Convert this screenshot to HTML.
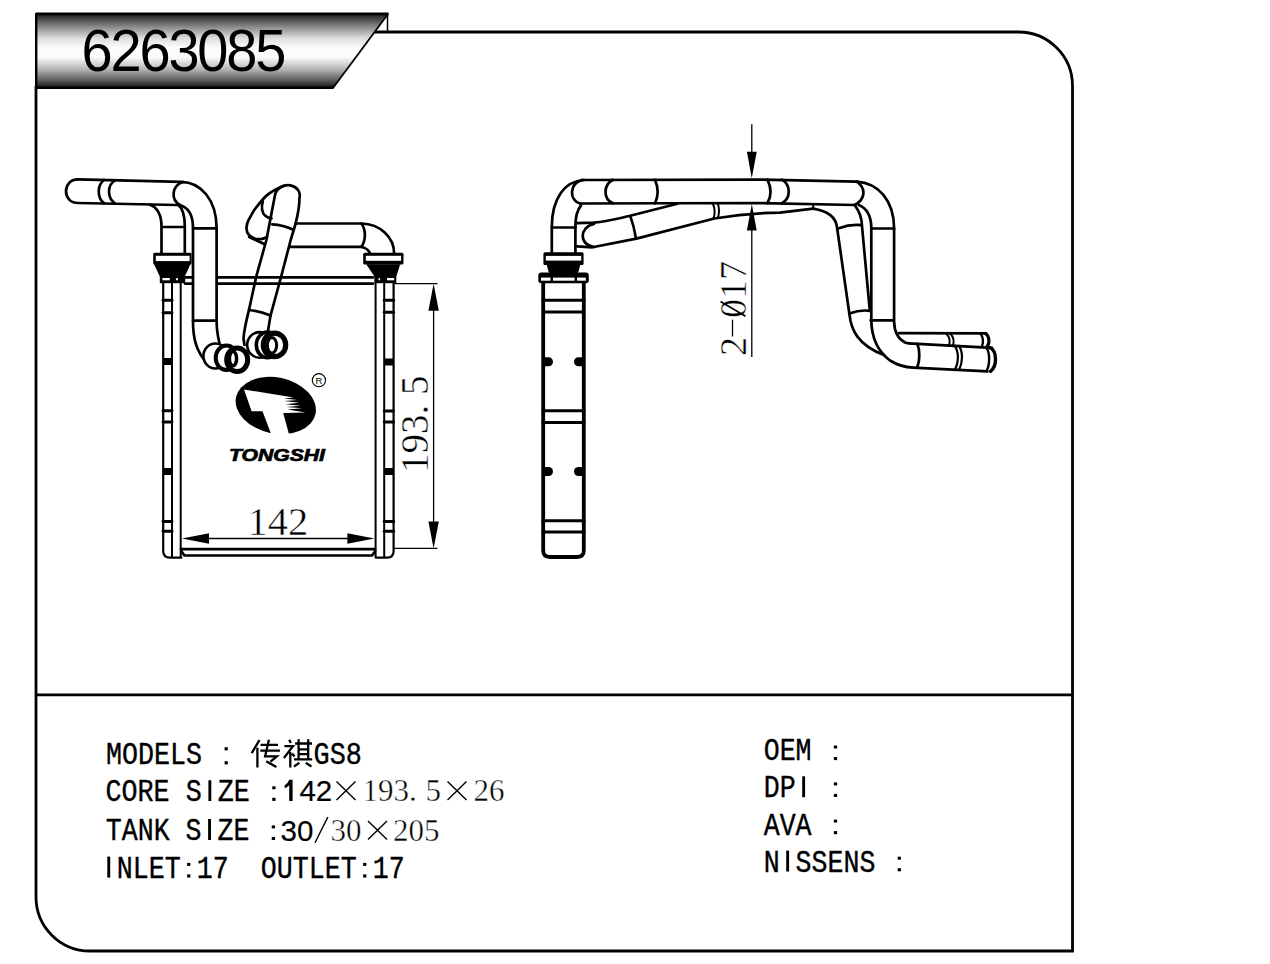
<!DOCTYPE html>
<html><head><meta charset="utf-8">
<title>6263085</title>
<style>
html,body{margin:0;padding:0;background:#fff;width:1270px;height:964px;overflow:hidden}
svg{display:block;position:absolute;left:0;top:0}
</style></head>
<body>
<svg width="1270" height="964" viewBox="0 0 1270 964">
<defs>
<linearGradient id="bg" x1="0" y1="13.5" x2="0" y2="88" gradientUnits="userSpaceOnUse">
<stop offset="0" stop-color="#1a1a1a"/>
<stop offset="0.18" stop-color="#8a8a8a"/>
<stop offset="0.33" stop-color="#dcdcdc"/>
<stop offset="0.46" stop-color="#fdfdfd"/>
<stop offset="0.59" stop-color="#fbfbfb"/>
<stop offset="0.75" stop-color="#b4b4b4"/>
<stop offset="0.9" stop-color="#5a5a5a"/>
<stop offset="1" stop-color="#111"/>
</linearGradient>
</defs>
<!-- frame -->
<g fill="none" stroke="#000" stroke-width="2.8">
<path d="M36,86 V897 A54,54 0 0 0 90,951 H1072.5 V86 A54,54 0 0 0 1018.5,32 H374"/>
<line x1="36" y1="694.8" x2="1072.5" y2="694.8"/>
</g>
<!-- banner -->
<polygon points="36,13.8 388,13.8 333,87.8 36,87.8" fill="url(#bg)"/>
<g stroke="#000" fill="none">
<line x1="36" y1="13.9" x2="388.6" y2="13.9" stroke-width="2.8"/>
<line x1="36" y1="87.7" x2="333.5" y2="87.7" stroke-width="2.6"/>
<line x1="388" y1="14" x2="333" y2="88" stroke-width="1.8"/>
<line x1="36.2" y1="13" x2="36.2" y2="89" stroke-width="2.4"/>
</g>
<line x1="387.5" y1="14" x2="387.5" y2="32" stroke="#000" stroke-width="1.5"/>
<text transform="translate(81.6,71) scale(1,1.065)" x="0" y="0" font-family="Liberation Sans" font-size="56" letter-spacing="-2.2" fill="#000">6263085</text>

<!-- DRAWING -->
<!-- ===== FRONT VIEW ===== -->
<g id="fv" fill="none" stroke="#000" stroke-width="2.7" stroke-linecap="round" stroke-linejoin="round">
<!-- left tank -->
<path d="M163.2,283 V551 Q163.2,557.6 170,557.6 H181.5" stroke-width="2.2"/>
<line x1="172" y1="283" x2="172" y2="557" stroke-width="2"/>
<line x1="180.7" y1="277" x2="180.7" y2="557" stroke-width="2"/>
<g stroke-width="2.9">
<line x1="163" y1="300.3" x2="172" y2="300.3"/><line x1="163" y1="312.7" x2="172" y2="312.7"/>
<line x1="163" y1="410.8" x2="172" y2="410.8"/><line x1="163" y1="422" x2="172" y2="422"/>
<line x1="163" y1="521.5" x2="172" y2="521.5"/><line x1="163" y1="531.2" x2="172" y2="531.2"/>
</g>
<rect x="163" y="358" width="9" height="7" fill="#000" stroke="none"/>
<rect x="163" y="468" width="9" height="7" fill="#000" stroke="none"/>
<!-- right tank -->
<path d="M393.6,283 V551 Q393.6,557.6 387,557.6 H375.6" stroke-width="2.2"/>
<line x1="384.2" y1="283" x2="384.2" y2="557" stroke-width="2"/>
<line x1="375.6" y1="277" x2="375.6" y2="557" stroke-width="2"/>
<g stroke-width="2.9">
<line x1="384.2" y1="300.3" x2="393.6" y2="300.3"/><line x1="384.2" y1="312.2" x2="393.6" y2="312.2"/>
<line x1="384.2" y1="411" x2="393.6" y2="411"/><line x1="384.2" y1="422" x2="393.6" y2="422"/>
<line x1="384.2" y1="521.5" x2="393.6" y2="521.5"/><line x1="384.2" y1="531.2" x2="393.6" y2="531.2"/>
</g>
<rect x="384.2" y="358.5" width="9.4" height="7" fill="#000" stroke="none"/>
<rect x="384.2" y="468" width="9.4" height="7" fill="#000" stroke="none"/>
<!-- core top double line -->
<path d="M185,277.3 H193 M217,277.3 H373 M185,283.6 H193 M217,283.6 H373"/>
<!-- core bottom double line -->
<path d="M181,549.2 H375 M181.5,551.5 L184.5,555.5 H372 L375,551.5" />
<!-- left fitting -->
<rect x="153.2" y="252.8" width="38.4" height="11.6" rx="1.5" fill="#000" stroke="none"/>
<rect x="155.8" y="255.8" width="33.8" height="5.3" fill="#fff" stroke="none"/>
<path d="M154,264 L190.5,264 L184.8,276.5 L159.8,276.5 Z" fill="#000" stroke="none"/>
<rect x="159.8" y="276" width="25.4" height="7.2" fill="#000" stroke="none"/>
<rect x="162.4" y="278" width="7.4" height="2.3" fill="#fff" stroke="none"/>
<rect x="175.9" y="278.2" width="2" height="2" fill="#fff" stroke="none"/>
<!-- right fitting -->
<rect x="363.2" y="252.8" width="40.3" height="11.7" rx="1.5" fill="#000" stroke="none"/>
<rect x="365.8" y="255.8" width="35.3" height="5" fill="#fff" stroke="none"/>
<path d="M366.2,264.2 L400.2,264.2 L396.3,276.5 L374.5,276.5 Z" fill="#000" stroke="none"/>
<rect x="374.5" y="276" width="21.8" height="7.2" fill="#000" stroke="none"/>
<rect x="387" y="278" width="7.2" height="2.3" fill="#fff" stroke="none"/>
<rect x="378.5" y="278.2" width="1.6" height="2" fill="#fff" stroke="none"/>
<!-- big left pipe -->
<path d="M78,179.4 L181,181.8 C201,182 216.6,200 216.6,228 V321 C216.6,330 218,337 219.4,343"/>
<path d="M78,179.4 C62,179.4 62,203 78,203 L177.3,205"/>
<path d="M104,180 C97,185 97,198 104,203.2 M115,180.3 C107,185 107,198 115,203.5"/>
<path d="M183,182 C171,186 171,200 180,205"/>
<path d="M179,205 C188,207 193,215 193,228 V321 C193,338 196,352 208,364"/>
<path d="M193,228.4 H216.6 M193,320.6 H216.4"/>
<!-- small inlet pipe into left fitting -->
<path d="M150.3,205 C157,207 161.5,215 161.5,226 V254 M178.3,205 C182,208 184.8,215 184.8,226 V254 M161.5,227 H184.8"/>

<!-- right horizontal pipe + elbow -->
<path d="M296,223.5 H361.5 C380,224 394,237 394.2,253.7"/>
<path d="M290,246.8 H361 C366,248 369,250 370,253.7"/>
<path d="M361.5,223.5 C366,230 366,240 361.5,246.8"/>

<!-- back tilted pipe cap -->
<path d="M284,185.8 C279,187.8 272,191 266.8,195.4 C263,198.5 260,202.5 254.1,210.2 L248.5,220.1 C245.5,226 246,232 249,235 C252,238.5 257,239.5 261.2,239.1 C263.5,238.8 265.5,237.8 267,237"/>
<path d="M249.2,237 L264.7,244.3"/>
<path d="M262.8,201.5 C261,207 262,213 265,215.5 C267,217.3 269,218 271.5,218.3"/>

<!-- diagonal pipe -->
<path d="M275.2,194 A12.4,10.8 -12 0 1 299.4,198.2 C299.6,206 297.5,216 295.5,224 L290.7,240 L281.3,276 L270.5,315.6 L267.8,332"/>
<path d="M275.2,194 L266.4,240 L256.3,276.4 L248.9,310.2 C246,322 244,330 243.5,338.5 L244.5,345"/>
<path d="M272.3,224.4 Q283,225 293.5,229.8"/>
<path d="M249,310 Q260,311 270.5,315.6"/>

<!-- rings left group -->
<g fill="#fff">
<ellipse cx="215.5" cy="356" rx="12.1" ry="12.5" stroke-width="2.6"/>
<ellipse cx="226.5" cy="357.8" rx="10.8" ry="12.3" stroke-width="4"/>
<ellipse cx="237.2" cy="359.8" rx="10.5" ry="11.8" stroke-width="5"/>
<ellipse cx="233" cy="358.6" rx="3.6" ry="7.2" stroke-width="3.5"/>
</g>
<!-- rings right group -->
<g fill="#fff">
<ellipse cx="259.5" cy="344.9" rx="12.3" ry="12.8" stroke-width="2.6"/>
<ellipse cx="267.5" cy="344.9" rx="11.2" ry="12.8" stroke-width="3.6"/>
<ellipse cx="274.5" cy="344.9" rx="11.2" ry="11.8" stroke-width="5.2"/>
<ellipse cx="272" cy="345.2" rx="4.6" ry="7.8" stroke-width="3"/>
</g>
</g>

<!-- logo -->
<g>
<ellipse cx="275.8" cy="405.5" rx="40.6" ry="28" transform="rotate(12 275.8 405.5)" fill="#000"/>
<path d="M244,389.5 L293.6,397.4 L284,398.4 L297.5,400 L284.5,401.1 L299,402.8 L285.5,404.3 L300.5,405.8 L286.5,407 L302,408.3 L287.5,409.4 L305.4,412.6 L283.2,412.9 L289.9,437.5 L272.4,437.5 L262.5,411.3 L251.6,411.3 Z" fill="#fff"/>
<circle cx="318.9" cy="380.2" r="6.6" fill="none" stroke="#000" stroke-width="1.1"/>
<text x="318.9" y="383.6" font-family="Liberation Sans" font-size="9.5" text-anchor="middle" fill="#000">R</text>
<text x="229" y="460.8" font-family="Liberation Sans" font-size="16.8" font-weight="bold" font-style="italic" fill="#000" stroke="#000" stroke-width="0.7" textLength="96" lengthAdjust="spacingAndGlyphs">TONGSHI</text>
</g>

<!-- dimensions FV -->
<g stroke="#000" stroke-width="1.3" fill="none">
<line x1="190" y1="538.5" x2="366" y2="538.5"/>
<line x1="433.6" y1="292" x2="433.6" y2="540"/>
<line x1="395" y1="283.7" x2="437.5" y2="283.7"/>
<line x1="394" y1="548.4" x2="437.5" y2="548.4"/>
</g>
<g fill="#000">
<polygon points="182,538.5 209,533.3 209,543.7"/>
<polygon points="374.4,538.5 347.4,533.3 347.4,543.7"/>
<polygon points="433.6,283.7 428.4,310.7 438.8,310.7"/>
<polygon points="433.6,548.4 428.4,521.4 438.8,521.4"/>
</g>
<text x="247.5" y="534.5" font-family="Liberation Serif" font-size="40.5" fill="#000" stroke="#fff" stroke-width="0.5">142</text>
<text transform="translate(428,472.9) rotate(-90)" font-family="Liberation Serif" font-size="39" fill="#000" stroke="#fff" stroke-width="0.5">193. 5</text>
<!-- ===== SIDE VIEW ===== -->
<g id="sv" fill="none" stroke="#000" stroke-width="2.7" stroke-linecap="round" stroke-linejoin="round">
<!-- tank -->
<path d="M543.2,283 V550.5 Q543.2,557 550,557 H577 Q583.8,557 583.8,550.5 V283" stroke-width="3.8"/>
<g stroke-width="3">
<line x1="543" y1="300.3" x2="584" y2="300.3"/><line x1="543" y1="312" x2="584" y2="312"/>
<line x1="543" y1="410.7" x2="584" y2="410.7"/><line x1="543" y1="422.6" x2="584" y2="422.6"/>
<line x1="543" y1="520.8" x2="584" y2="520.8"/><line x1="543" y1="531.9" x2="584" y2="531.9"/>
</g>
<g fill="#000" stroke="none">
<path d="M543,357.3 H548.5 A4.5,4.5 0 0 1 548.5,366.3 H543 Z"/>
<path d="M584,357.3 H578.5 A4.5,4.5 0 0 0 578.5,366.3 H584 Z"/>
<path d="M543,467 H548.5 A4.5,4.5 0 0 1 548.5,476 H543 Z"/>
<path d="M584,467 H578.5 A4.5,4.5 0 0 0 578.5,476 H584 Z"/>
</g>
<!-- tank top cap -->
<rect x="538.3" y="272.5" width="50.5" height="10.8" rx="3" fill="#000" stroke="none"/>
<rect x="541" y="277.6" width="9.6" height="3.1" fill="#fff" stroke="none"/>
<rect x="553" y="277.6" width="21.6" height="3.1" fill="#fff" stroke="none"/>
<rect x="577" y="277.6" width="8.8" height="3.1" fill="#fff" stroke="none"/>
<!-- fitting -->
<rect x="543.4" y="252.3" width="40.2" height="12.7" rx="1.5" fill="#000" stroke="none"/>
<rect x="545.8" y="255.9" width="35.4" height="4.7" fill="#fff" stroke="none"/>
<path d="M546.5,264 L580.5,264 L578.5,271.5 Q577,276 563.5,276 Q550,276 548.5,271.5 Z" fill="#000" stroke="none"/>
<!-- vertical pipe -->
<path d="M551.8,253.4 V227.3 C551.8,198 565,181 584,180"/>
<path d="M575.4,253.4 V227.3 C575.4,216 577,210 581,205.5"/>
<path d="M551.8,227.5 H575.4"/>
<!-- upper pipe -->
<path d="M582,180 L760,179.6 L856.8,181.6"/>
<path d="M580,203.5 L760,203 L854.7,205"/>
<path d="M582,180 C569,184 569,200 580,203.5"/>
<path d="M613,179.8 C603,185 603,199 613,203.3"/>
<path d="M655,179.8 C658.5,188 658.5,196 655,203.3"/>
<path d="M767.5,179.6 C771.5,188 771.5,196 767.5,203"/>
<path d="M782,179.6 C791,185 791,198 782,203.2"/>
<path d="M856.8,181.6 C866,188 866,199 854.7,205"/>
<!-- lower sloping pipe -->
<path d="M577,223.2 L593.4,222.7 C610,221 620,218 629.2,216 L677.4,203.8"/>
<path d="M577,246.3 L592.4,247.3 L636.4,238.6 L714.3,218.5 C740,214 760,212.8 780,212.7 L813.2,208.6"/>
<path d="M594,224 C579,227 579,245 594,247"/>
<path d="M630.3,216.1 Q634,226 635.9,238.1"/>
<path d="M713,204 Q716,211 713.5,218.3 M718,204 Q720,211 718,217.5" stroke-width="2"/>
<path d="M813.2,205 V208.6" stroke-width="2"/>
<!-- right vertical pipe B -->
<path d="M856.8,181.6 C878,183 894,200 894.1,228.3 V322 C894.5,333 898,339 905,342.5 C908,343.5 911,343.7 913.1,343.6 L992,347.8"/>
<path d="M858.8,205 C866,208 871,215 871.3,227.2 V320 C871.5,336 876,350 890,360.5 C898,365.5 905,367.3 913.1,367.6 L987.4,371.4"/>
<path d="M871.3,228.5 H894.1 M870.5,320.3 H893.8"/>
<!-- pipe A (diagonal) -->
<path d="M854.7,205 C859,211 862,218 862,226 L869.8,310.6"/>
<path d="M813.2,208.6 C828,211 836,218 837,227.2 L849.5,314.7 C851,330 858,345 884,355.1"/>
<path d="M839,228.2 Q850,224 861.5,225.2"/>
<path d="M849.5,313.5 Q860,309.5 869.8,310.8"/>
<!-- back pipe -->
<path d="M899,333.2 L986,333.4"/>
<path d="M946,333.2 C950.5,338 950.5,342 948.5,346 M950,333.2 C954.5,338 954.5,342 952.5,346.2" stroke-width="2"/>
<path d="M980.5,333.3 C983,337 983.5,342 982,346.2" stroke-width="2.4"/><path d="M985.5,333.5 C989.5,336 990,343 987,346.8" stroke-width="3.2"/>
<!-- front pipe -->
<path d="M917.3,343.8 C920,350 920,360 917.3,367.2"/>
<path d="M954.5,345.6 C959,352 959,362 955,369.7 M959,345.9 C963,352 963,362 959,369.9" stroke-width="2.2"/>
<path d="M986.5,347.8 C990,353 990,365 986.5,371" stroke-width="2.4"/><path d="M990,347.8 C997,351 997.5,366 990.5,371.3" stroke-width="3.4"/>
</g>
<!-- SV dimension -->
<g stroke="#000" stroke-width="1.3" fill="none">
<line x1="751.8" y1="124.3" x2="751.8" y2="160"/>
<line x1="751.8" y1="220" x2="751.8" y2="357"/>
</g>
<g fill="#000">
<polygon points="751.8,178.2 746.9,151.8 756.7,151.8"/>
<polygon points="751.8,204 746.9,230.4 756.7,230.4"/>
</g>
<g transform="translate(745.8,356) rotate(-90)" font-family="Liberation Serif" font-size="38" fill="#000" stroke="#fff" stroke-width="0.5">
<text x="0" y="0">2</text><text x="38" y="0">017</text>
</g>
<line x1="720.5" y1="301.5" x2="745.5" y2="316.2" stroke="#000" stroke-width="1.6"/>
<line x1="732.5" y1="319.7" x2="732.5" y2="336.5" stroke="#000" stroke-width="1.3"/>


<!-- bottom text -->
<g font-family="Liberation Mono" font-size="32" fill="#000" stroke="#000" stroke-width="0.4">
<text x="106" y="764.2" textLength="96" lengthAdjust="spacingAndGlyphs">MODELS</text>
<text x="105.5" y="801.2" textLength="176.4" lengthAdjust="spacingAndGlyphs" xml:space="preserve">CORE S ZE  </text>
<text x="105.8" y="840.3" textLength="175.6" lengthAdjust="spacingAndGlyphs" xml:space="preserve">TANK S ZE  </text>
<text x="100.75" y="877.8" textLength="304" lengthAdjust="spacingAndGlyphs" xml:space="preserve"> NLET 17  OUTLET 17</text>
<text x="313.6" y="764" textLength="48.3" lengthAdjust="spacingAndGlyphs">GS8</text>
<text x="763.7" y="760.4" textLength="79.75" lengthAdjust="spacingAndGlyphs" xml:space="preserve">OEM  </text>
<text x="763.7" y="797.3" textLength="79.75" lengthAdjust="spacingAndGlyphs" xml:space="preserve">DP   </text>
<text x="763.7" y="834.5" textLength="79.75" lengthAdjust="spacingAndGlyphs" xml:space="preserve">AVA  </text>
<text x="763.7" y="871.6" textLength="143.6" lengthAdjust="spacingAndGlyphs" xml:space="preserve">N SSENS  </text>
</g>


<!-- colons -->
<g fill="#000">
<rect x="272.25" y="786.3" width="3.3" height="3"/><rect x="272.25" y="797.8" width="3.3" height="3.1"/>
<rect x="271.75" y="825.4" width="3.3" height="3"/><rect x="271.75" y="836.9" width="3.3" height="3.1"/>
<rect x="187.10" y="862.9" width="3.3" height="3"/><rect x="187.10" y="874.4" width="3.3" height="3.1"/>
<rect x="363.10" y="862.9" width="3.3" height="3"/><rect x="363.10" y="874.4" width="3.3" height="3.1"/>
<rect x="833.85" y="745.5" width="3.3" height="3"/><rect x="833.85" y="757.0" width="3.3" height="3.1"/>
<rect x="833.85" y="782.4" width="3.3" height="3"/><rect x="833.85" y="793.9" width="3.3" height="3.1"/>
<rect x="833.85" y="819.6" width="3.3" height="3"/><rect x="833.85" y="831.1" width="3.3" height="3.1"/>
<rect x="897.65" y="856.7" width="3.3" height="3"/><rect x="897.65" y="868.2" width="3.3" height="3.1"/>
</g>
<!-- plain I glyphs -->
<g fill="#000">
<rect x="208.4" y="780.2" width="2.9" height="20.8"/>
<rect x="208.1" y="819" width="2.9" height="21"/>
<rect x="107.3" y="856.6" width="2.9" height="21"/>
<rect x="802.2" y="776.3" width="2.9" height="20.9"/>
<rect x="786.2" y="850.6" width="2.9" height="20.9"/>
</g>
<!-- full-width colon -->
<rect x="224.6" y="747.2" width="3.2" height="3.2" fill="#000"/>
<rect x="224.6" y="761.2" width="3.2" height="3.2" fill="#000"/>
<!-- chinese chars -->
<g fill="none" stroke="#000" stroke-width="2.3" stroke-linecap="butt">
<path d="M259.5,740 L251.7,753.1 M257.4,747.8 V767.6"/>
<path d="M260.6,744.8 H278 M260.3,750.7 H279.9 M268.9,739.7 L265.1,756.3 H276.9 L270.5,761.7 M266.2,761.2 L276.4,767"/>
<path d="M289.2,739.7 L290.8,743 M284.4,746.2 H293 L283.9,758 M290.3,752.1 V767.6 M291.9,753.7 L294.6,756.3"/>
<path d="M295.1,743.5 H312 M298.6,739.2 V759.6 M308.2,739.2 V759.6 M298.6,749.4 H308.2 M298.6,754.2 H308.2 M294,759.3 H312.2 M299.4,762.8 L294,766.5 M305.8,762.8 L311.4,766.5"/>
</g>
<!-- numbers -->
<g fill="#000">
<text x="299.4" y="801" font-family="Liberation Sans" font-size="29.5" stroke="#000" stroke-width="0.2">42</text>
<path d="M289.2,779.8 H292.6 V801 H289.2 V785.2 Q287.5,787 284.7,788.2 V785.2 Q288,783.5 289.2,779.8 Z" fill="#000"/>
<text x="362.4" y="801" font-family="Liberation Serif" font-size="31" stroke="#fff" stroke-width="0.45">193.</text>
<text x="425.4" y="801" font-family="Liberation Serif" font-size="31" stroke="#fff" stroke-width="0.45">5</text>
<text x="473.4" y="801" font-family="Liberation Serif" font-size="31" stroke="#fff" stroke-width="0.45">26</text>
<text x="280.5" y="840.5" font-family="Liberation Sans" font-size="29.5" stroke="#000" stroke-width="0.2">30</text>
<text x="330.5" y="840.5" font-family="Liberation Serif" font-size="31" stroke="#fff" stroke-width="0.45">30</text>
<text x="393" y="840.5" font-family="Liberation Serif" font-size="31" stroke="#fff" stroke-width="0.45">205</text>
</g>
<g stroke="#000" stroke-width="1.4" fill="none">
<path d="M336.5,781.5 L355.5,800 M355.5,781.5 L336.5,800"/>
<path d="M447.5,781.5 L466.5,800 M466.5,781.5 L447.5,800"/>
<path d="M368,821 L387,839.5 M387,821 L368,839.5"/>
<path d="M315,842.7 L327.8,817.1"/>
</g>
</svg>
</body></html>
